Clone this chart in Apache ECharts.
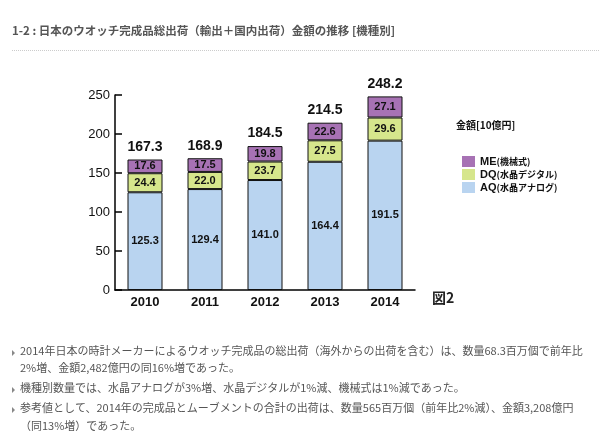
<!DOCTYPE html>
<html><head><meta charset="utf-8">
<script src="https://cdn.jsdelivr.net/npm/echarts@6/dist/echarts.min.js"></script>
<style>html,body{margin:0;padding:0;background:#fff;}#c{width:600px;height:446px;}</style>
</head><body><div id="c"></div>
<script>
const years = ['2010','2011','2012','2013','2014'];
const aq = [125.3, 129.4, 141.0, 164.4, 191.5];
const dq = [24.4, 22.0, 23.7, 27.5, 29.6];
const me = [17.6, 17.5, 19.8, 22.6, 27.1];
const totals = [167.3, 168.9, 184.5, 214.5, 248.2];
const seriesNames = ['AQ(水晶アナログ)', 'DQ(水晶デジタル)', 'ME(機械式)'];
const titleText = '1-2 : 日本のウオッチ完成品総出荷（輸出＋国内出荷）金額の推移 [機種別]';
const notes = [
  '2014年日本の時計メーカーによるウオッチ完成品の総出荷（海外からの出荷を含む）は、数量68.3百万個で前年比',
  '2%増、金額2,482億円の同16%増であった。',
  '機種別数量では、水晶アナログが3%増、水晶デジタルが1%減、機械式は1%減であった。',
  '参考値として、2014年の完成品とムーブメントの合計の出荷は、数量565百万個（前年比2%減）、金額3,208億円',
  '（同13%増）であった。'
];
const noteBullets = [true, false, true, true, false];
const noteY = [353, 370, 390, 410, 428];

const FONT = 'Liberation Sans, Arial, "Noto Sans CJK JP", sans-serif';
const JFONT = '"Noto Sans CJK JP", sans-serif';
const colors = ['#b9d4f0', '#d6e68c', '#a772b4'];

const chart = echarts.init(document.getElementById('c'));
const labelStyle = {show: true, position: 'inside', color: '#111', fontWeight: 'bold', fontSize: 11, fontFamily: FONT,
  formatter: p => p.value.toFixed(1)};

const graphics = [
  {type: 'text', left: 12, top: 25, style: {text: titleText, fill: '#555', font: 'bold 11.5px ' + JFONT}},
  {type: 'line', shape: {x1: 12, y1: 50.5, x2: 600, y2: 50.5}, style: {stroke: '#ccc', lineWidth: 1, lineDash: [1, 1]}},
  {type: 'text', left: 456, top: 120, style: {text: '金額[10億円]', fill: '#111', font: 'bold 10px ' + JFONT}},
  {type: 'text', left: 432, top: 291, style: {text: '図2', fill: '#222', font: 'bold 14px ' + JFONT}}
];
notes.forEach((t, i) => {
  if (noteBullets[i]) {
    graphics.push({type: 'polygon', shape: {points: [[12, noteY[i] - 3], [15, noteY[i]], [12, noteY[i] + 3]]}, style: {fill: '#888'}});
  }
  graphics.push({type: 'text', left: 20, top: noteY[i] - 8, style: {text: t, fill: '#555', font: '11px ' + JFONT}});
});

chart.setOption({
  animation: false,
  grid: {left: 115, right: 185, top: 95, bottom: 156},
  legend: {
    orient: 'vertical', left: 457, top: 151, itemWidth: 13, itemHeight: 11, itemGap: 2,
    data: [seriesNames[2], seriesNames[1], seriesNames[0]],
    icon: 'rect',
    itemStyle: {borderWidth: 0},
    formatter: n => {
      const i = n.indexOf('(');
      return '{a|' + n.slice(0, i) + '}{b|' + n.slice(i) + '}';
    },
    textStyle: {
      rich: {
        a: {fontSize: 11, fontWeight: 'bold', fontFamily: FONT, color: '#111'},
        b: {fontSize: 9, fontWeight: 'bold', fontFamily: JFONT, color: '#111'}
      }
    }
  },
  xAxis: {
    type: 'category', data: years,
    axisLine: {lineStyle: {color: '#000', width: 1.5}},
    axisTick: {inside: true, length: 5, lineStyle: {color: '#000', width: 1.5}},
    axisLabel: {color: '#111', fontWeight: 'bold', fontSize: 13, fontFamily: FONT, margin: 6}
  },
  yAxis: {
    type: 'value', min: 0, max: 250, interval: 50,
    axisLine: {show: true, lineStyle: {color: '#000', width: 1.5}},
    axisTick: {show: true, inside: true, length: 7, lineStyle: {color: '#000', width: 1.5}},
    axisLabel: {color: '#111', fontSize: 13, fontFamily: FONT, margin: 5},
    splitLine: {show: false}
  },
  series: [
    {name: seriesNames[0], type: 'bar', stack: 's', data: aq, barWidth: 35, itemStyle: {color: colors[0], borderColor: '#111', borderWidth: 1}, label: labelStyle},
    {name: seriesNames[1], type: 'bar', stack: 's', data: dq, barWidth: 35, itemStyle: {color: colors[1], borderColor: '#111', borderWidth: 1}, label: labelStyle},
    {name: seriesNames[2], type: 'bar', stack: 's', data: me, barWidth: 35, itemStyle: {color: colors[2], borderColor: '#111', borderWidth: 1}, label: labelStyle},
    {name: 'total', type: 'line', data: totals, symbol: 'circle', symbolSize: 1, showSymbol: true,
      itemStyle: {color: 'rgba(0,0,0,0)'}, lineStyle: {width: 0, color: 'rgba(0,0,0,0)'}, silent: true,
      label: {show: true, position: 'top', distance: 5, color: '#111', fontWeight: 'bold', fontSize: 14, fontFamily: FONT,
        formatter: p => p.value.toFixed(1)}}
  ],
  graphic: graphics
});
</script></body></html>
